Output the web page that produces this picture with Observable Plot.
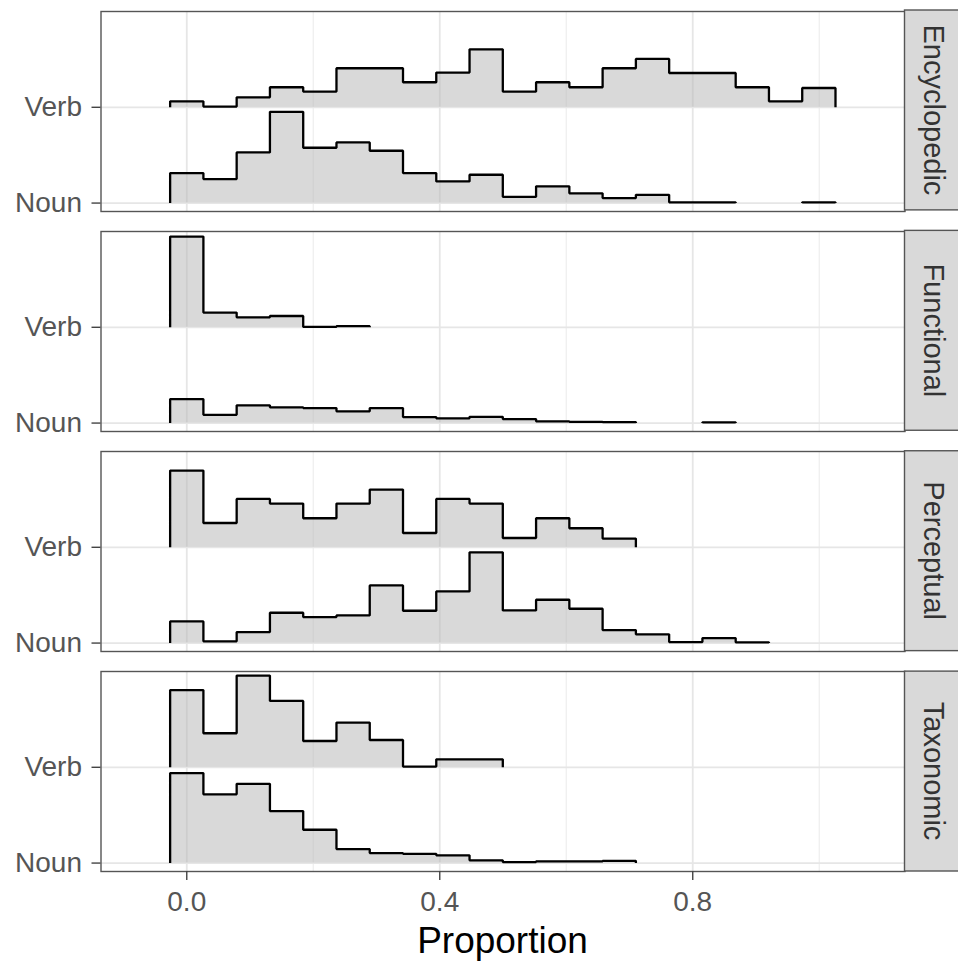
<!DOCTYPE html>
<html><head><meta charset="utf-8">
<script src="https://cdn.jsdelivr.net/npm/d3@7"></script>
<script src="https://cdn.jsdelivr.net/npm/@observablehq/plot@0.6"></script>
<style>html,body{margin:0;padding:0;background:#fff} svg{display:block}</style>
</head><body><div id="chart"></div>
<script>
// ---- data ----
const categories = ["Encyclopedic", "Functional", "Perceptual", "Taxonomic"];
const groups = ["Noun", "Verb"];
const xTicks = [0, 0.4, 0.8];
const xMinor = [0.2, 0.6, 1.0];
const binCenters = [0.000, 0.0526, 0.1053, 0.1579, 0.2105, 0.2632, 0.3158, 0.3684, 0.4211, 0.4737,
                    0.5263, 0.5789, 0.6316, 0.6842, 0.7368, 0.7895, 0.8421, 0.8947, 0.9474, 1.000];
const binWidth = 0.0526;

// relative bin heights (panel peak ~ 1)
const encyclopedicVerb = [0.066, 0.008, 0.110, 0.220, 0.173, 0.429, 0.429, 0.275, 0.381, 0.637,
                          0.173, 0.275, 0.220, 0.429, 0.531, 0.377, 0.377, 0.220, 0.066, 0.212];
const encyclopedicNoun = [0.330, 0.264, 0.557, 1.003, 0.608, 0.667, 0.575, 0.330, 0.238, 0.311,
                          0.069, 0.184, 0.107, 0.055, 0.091, 0.008, 0.008, 0, 0, 0.008];
const functionalVerb   = [0.997, 0.162, 0.110, 0.124, 0.004, 0.012, 0, 0, 0, 0,
                          0, 0, 0, 0, 0, 0, 0, 0, 0, 0];
const functionalNoun   = [0.264, 0.091, 0.195, 0.173, 0.165, 0.129, 0.165, 0.066, 0.052, 0.069,
                          0.044, 0.019, 0.014, 0.011, 0, 0, 0.008, 0, 0, 0];
const perceptualVerb   = [0.843, 0.267, 0.531, 0.480, 0.319, 0.480, 0.634, 0.157, 0.531, 0.480,
                          0.102, 0.319, 0.209, 0.096, 0, 0, 0, 0, 0, 0];
const perceptualNoun   = [0.238, 0.019, 0.121, 0.333, 0.286, 0.304, 0.634, 0.355, 0.568, 0.997,
                          0.359, 0.476, 0.377, 0.143, 0.096, 0.011, 0.055, 0.008, 0, 0];
const taxonomicVerb    = [0.849, 0.374, 1.008, 0.729, 0.289, 0.491, 0.300, 0.008, 0.088, 0.088,
                          0, 0, 0, 0, 0, 0, 0, 0, 0, 0];
const taxonomicNoun    = [0.989, 0.755, 0.871, 0.571, 0.366, 0.154, 0.110, 0.102, 0.085, 0.030,
                          0.011, 0.019, 0.019, 0.025, 0, 0, 0, 0, 0, 0];

const series = [
  {cat: "Encyclopedic", group: "Verb", values: encyclopedicVerb},
  {cat: "Encyclopedic", group: "Noun", values: encyclopedicNoun},
  {cat: "Functional",   group: "Verb", values: functionalVerb},
  {cat: "Functional",   group: "Noun", values: functionalNoun},
  {cat: "Perceptual",   group: "Verb", values: perceptualVerb},
  {cat: "Perceptual",   group: "Noun", values: perceptualNoun},
  {cat: "Taxonomic",    group: "Verb", values: taxonomicVerb},
  {cat: "Taxonomic",    group: "Noun", values: taxonomicNoun}
];

// ---- build ridge geometry (data space) ----
const ridgeScale = 0.95;
const yPos = g => groups.indexOf(g) + 1;
const edge = k => binCenters[0] - binWidth / 2 + k * binWidth;
const areaRows = [], lineRows = [];
for (const s of series) {
  const base = yPos(s.group), v = s.values, id = s.cat + "-" + s.group;
  v.forEach((h, k) => areaRows.push({cat: s.cat, id, x: edge(k), y1: base, y2: base + h * ridgeScale}));
  areaRows.push({cat: s.cat, id, x: edge(v.length), y1: base, y2: base + v[v.length - 1] * ridgeScale});
  let k = 0, run = 0;
  while (k < v.length) {
    if (v[k] > 0) {
      const a = k; while (k < v.length && v[k] > 0) k++;
      const b = k - 1, rid = id + "-" + (run++);
      lineRows.push({cat: s.cat, id: rid, x: edge(a), y: base});
      for (let j = a; j <= b; j++) {
        const t = base + v[j] * ridgeScale;
        lineRows.push({cat: s.cat, id: rid, x: edge(j), y: t});
        lineRows.push({cat: s.cat, id: rid, x: edge(j + 1), y: t});
      }
      lineRows.push({cat: s.cat, id: rid, x: edge(b + 1), y: base});
    } else k++;
  }
}

const FONT = "'Liberation Sans', Arial, Helvetica, sans-serif";
const chart = Plot.plot({
  width: 958, height: 965,
  marginLeft: 100.5, marginRight: 53.5, marginTop: 10, marginBottom: 94,
  style: {fontFamily: FONT, background: "white", overflow: "visible"},
  x: {domain: [-0.1356, 1.1356]},
  y: {domain: [0.912, 3.0]},
  fy: {domain: categories, padding: 0.093, axis: null},
  marks: [
    Plot.gridX(xMinor, {stroke: "#eeeeee", strokeOpacity: 1, strokeWidth: 1.2}),
    Plot.gridX(xTicks, {stroke: "#e6e6e6", strokeOpacity: 1, strokeWidth: 1.8}),
    Plot.gridY([1, 2], {stroke: "#e6e6e6", strokeOpacity: 1, strokeWidth: 1.8}),
    Plot.areaY(areaRows, {x: "x", y1: "y1", y2: "y2", z: "id", fy: "cat", curve: "step-after",
                          fill: "#b3b3b3", fillOpacity: 0.5}),
    Plot.line(lineRows, {x: "x", y: "y", z: "id", fy: "cat", curve: "linear",
                         stroke: "black", strokeWidth: 2.3, strokeLinejoin: "miter", strokeLinecap: "butt"}),
    Plot.frame({stroke: "#555555", strokeWidth: 1.4}),
    Plot.axisY([1, 2], {tickFormat: d => groups[d - 1], tickSize: 9, tickPadding: 10, fontSize: 28,
                        stroke: "#444444", strokeWidth: 1.4, label: null}),
    Plot.axisX(xTicks, {tickFormat: d3.format(".1f"), tickSize: 9, tickPadding: 11, fontSize: 28,
                        stroke: "#444444", strokeWidth: 1.4, label: null})
  ]
});
document.getElementById("chart").appendChild(chart);

// ---- ggplot-style decorations: strips and axis title ----
const svg = d3.select(chart.tagName.toLowerCase() === "svg" ? chart : chart.querySelector("svg"));
svg.selectAll('g[aria-label$="tick label"]').attr("fill", "#555555");
const fyS = chart.scale("fy"), xS = chart.scale("x");
const band = d3.scaleBand(fyS.domain, fyS.range)
  .paddingInner(fyS.paddingInner ?? 0.093).paddingOuter(fyS.paddingOuter ?? 0).align(fyS.align ?? 0.5);
const right = xS.range[1];
const strips = svg.append("g").attr("aria-label", "strips");
for (const c of categories) {
  const y0 = band(c), bw = band.bandwidth();
  strips.append("rect").attr("x", right).attr("y", y0).attr("width", 60).attr("height", bw)
    .attr("fill", "#d9d9d9").attr("stroke", "#555555").attr("stroke-width", 1.4);
  strips.append("text")
    .attr("transform", `translate(${right + 29.5},${y0 + bw / 2}) rotate(90)`)
    .attr("text-anchor", "middle").attr("dy", "0.36em")
    .attr("font-family", FONT).attr("font-size", 29).attr("fill", "#333333").text(c);
}
svg.append("text")
  .attr("x", (xS.range[0] + xS.range[1]) / 2).attr("y", fyS.range[1] + 82)
  .attr("text-anchor", "middle").attr("font-family", FONT).attr("font-size", 37).attr("fill", "black")
  .text("Proportion");
</script></body></html>
